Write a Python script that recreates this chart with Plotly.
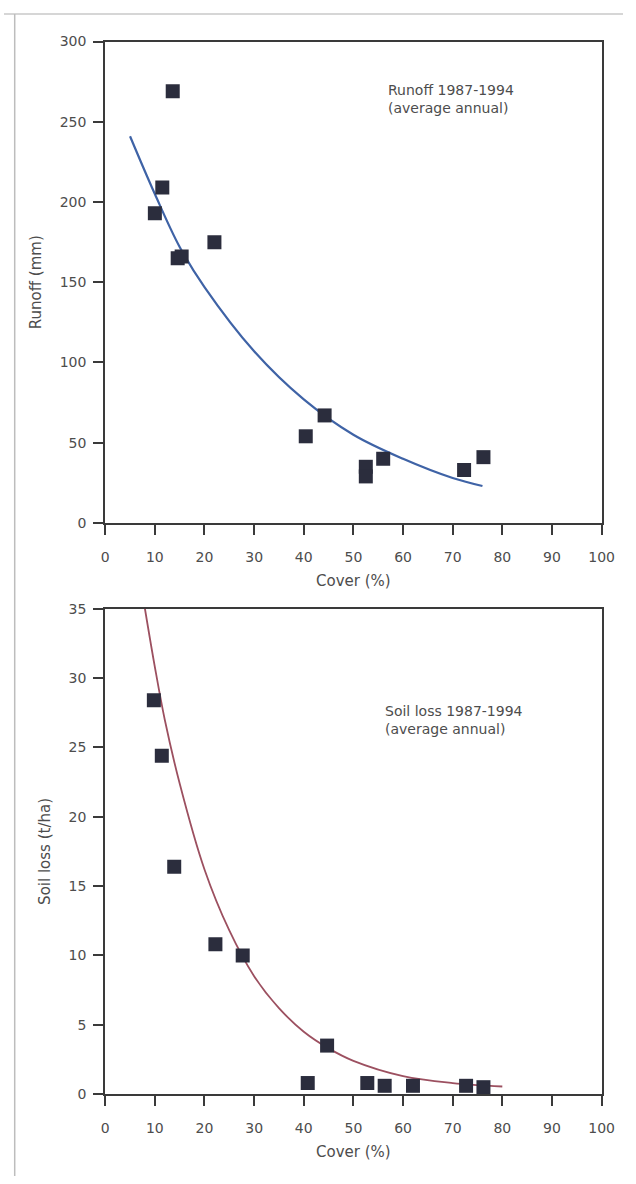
import plotly.graph_objects as go

# ---- data ----
runoff_cover = [10, 11.5, 13.6, 14.6, 15.4, 22, 40.4, 44.2, 52.5, 52.5, 56, 72.3, 76.2]
runoff_mm = [193, 209, 269, 165, 166, 175, 54, 67, 35, 29, 40, 33, 41]
runoff_fit_cover = [5, 10, 15, 20, 30, 40, 50, 60, 70, 76]
runoff_fit_mm = [241, 205, 172, 147, 107, 77, 55, 40, 28, 23]

soil_cover = [9.8, 11.4, 13.9, 22.2, 27.7, 40.8, 44.7, 52.8, 56.3, 62, 72.7, 76.2]
soil_loss = [28.4, 24.4, 16.4, 10.8, 10.0, 0.8, 3.5, 0.8, 0.6, 0.6, 0.6, 0.5]
soil_fit_cover = [8, 10, 12, 15, 20, 25, 30, 35, 40, 45, 50, 60, 70, 80]
soil_fit_loss = [35, 30.8, 27.0, 22.4, 16.2, 11.8, 8.5, 6.2, 4.5, 3.3, 2.4, 1.3, 0.8, 0.55]

x_ticks = list(range(0, 101, 10))
runoff_ticks = list(range(0, 301, 50))
soil_ticks = list(range(0, 36, 5))

W, H = 636, 1184
XD = [104 / W, 614 / W]
Y1 = [1 - 522 / H, 1 - 34 / H]
Y2 = [1 - 1101 / H, 1 - 609 / H]

FONT = "DejaVu Sans, Liberation Sans, sans-serif"
TXT = "#4d4d4d"
AX = "#3a3a3a"
MARK = "#2b2d3d"

fig = go.Figure()
fig.add_trace(go.Scatter(x=runoff_fit_cover, y=runoff_fit_mm, mode="lines",
                         line=dict(color="#3f63a6", width=2.2, shape="spline"),
                         xaxis="x", yaxis="y", showlegend=False))
fig.add_trace(go.Scatter(x=runoff_cover, y=runoff_mm, mode="markers",
                         marker=dict(symbol="square", size=14, color=MARK),
                         xaxis="x", yaxis="y", showlegend=False))
fig.add_trace(go.Scatter(x=soil_fit_cover, y=soil_fit_loss, mode="lines",
                         line=dict(color="#9c5060", width=1.8, shape="spline"),
                         xaxis="x2", yaxis="y2", showlegend=False))
fig.add_trace(go.Scatter(x=soil_cover, y=soil_loss, mode="markers",
                         marker=dict(symbol="square", size=14, color=MARK),
                         xaxis="x2", yaxis="y2", showlegend=False))

base = dict(showline=True, linecolor=AX, linewidth=2, mirror=True,
            ticks="outside", ticklen=10, tickwidth=2, tickcolor=AX,
            showgrid=False, zeroline=False,
            tickfont=dict(family=FONT, size=14, color=TXT))
xaxis_common = dict(base, ticklabelstandoff=10)
yaxis_common = dict(base, ticklabelstandoff=4)
title_font = dict(family=FONT, size=15, color=TXT)

fig.update_layout(
    width=W, height=H,
    margin=dict(l=0, r=0, t=0, b=0),
    paper_bgcolor="white", plot_bgcolor="white",
    xaxis=dict(domain=XD, anchor="y", range=[0, 100], tickvals=x_ticks,
               title=dict(text="Cover (%)", font=title_font, standoff=12), **xaxis_common),
    yaxis=dict(domain=Y1, anchor="x", range=[0, 300], tickvals=runoff_ticks,
               title=dict(text="Runoff (mm)", font=title_font, standoff=14), **yaxis_common),
    xaxis2=dict(domain=XD, anchor="y2", range=[0, 100], tickvals=x_ticks,
                title=dict(text="Cover (%)", font=title_font, standoff=12), **xaxis_common),
    yaxis2=dict(domain=Y2, anchor="x2", range=[0, 35], tickvals=soil_ticks,
                title=dict(text="Soil loss (t/ha)", font=title_font, standoff=14), **yaxis_common),
    annotations=[
        dict(xref="x", yref="y", x=56.5, y=264, xanchor="left", yanchor="middle",
             text="Runoff 1987-1994<br>(average annual)", align="left", showarrow=False,
             font=dict(family=FONT, size=14, color=TXT)),
        dict(xref="x2", yref="y2", x=56, y=27.0, xanchor="left", yanchor="middle",
             text="Soil loss 1987-1994<br>(average annual)", align="left", showarrow=False,
             font=dict(family=FONT, size=14, color=TXT)),
    ],
    shapes=[
        dict(type="line", xref="paper", yref="paper", x0=0, x1=1, y0=1 - 6 / H, y1=1 - 6 / H,
             line=dict(color="#c8c8c8", width=1.5)),
        dict(type="line", xref="paper", yref="paper", x0=11 / W, x1=11 / W, y0=0, y1=1 - 6 / H,
             line=dict(color="#bdbdbd", width=1.5)),
    ],
)

fig.write_html("out.html")
